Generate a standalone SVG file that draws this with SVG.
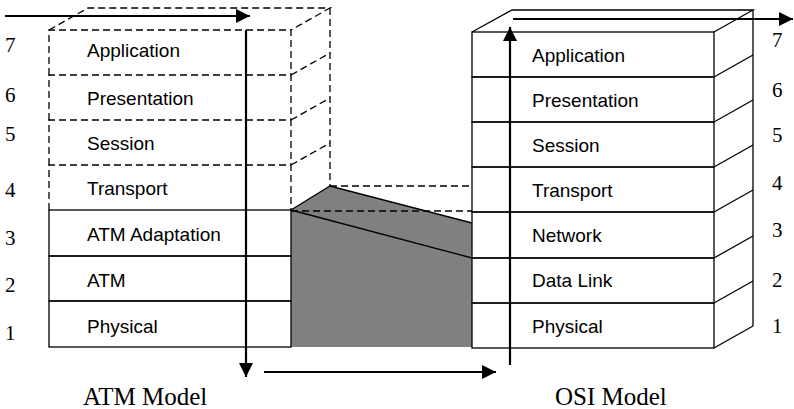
<svg xmlns="http://www.w3.org/2000/svg" width="794" height="409" viewBox="0 0 794 409">
<style>
.bg{fill:#ffffff}
.solid{fill:none;stroke:#000;stroke-width:1.3}
.dash{fill:none;stroke:#000;stroke-width:1.3;stroke-dasharray:7 4}
.lbl{font-family:"Liberation Sans",Arial,sans-serif;font-size:19px;fill:#000}
.num{font-family:"Liberation Serif","Times New Roman",serif;font-size:21px;fill:#000}
.title{font-family:"Liberation Serif","Times New Roman",serif;font-size:25px;fill:#000}
.arrow{fill:none;stroke:#000;stroke-width:2.2}
.gray{fill:#808080;stroke:none}
</style>
<defs>
<marker id="ah" viewBox="0 0 14 14" refX="14" refY="7" markerWidth="14" markerHeight="14" markerUnits="userSpaceOnUse" orient="auto">
<path d="M0,0 L14,7 L0,14 Z" fill="#000"/>
</marker>
</defs>
<rect class="bg" x="0" y="0" width="794" height="409"/>

<!-- bridge between models -->
<g id="bridge">
<path class="gray" d="M291,210 L330,186 L472,223 L472,347 L291,347 Z"/>
<path class="solid" d="M291,210 L330,186 L472,223"/>
<path class="solid" d="M291,210 L472,258"/>
<path class="dash" d="M330,186 H472"/>
<path class="dash" d="M291,211 H472"/>
</g>

<!-- ATM model 3D frame -->
<g id="atm-frame">
<path class="dash" d="M49,30 L88,8 H330 L291,30"/>
<path class="dash" d="M330,8 V186"/>
<path class="dash" d="M291,75 L330,53"/>
<path class="dash" d="M291,120 L330,98"/>
<path class="dash" d="M291,165 L330,143"/>
</g>

<g id="atm-7">
<path class="dash" d="M49,75 V30 H291 V75"/>
<text class="lbl" x="87" y="57">Application</text>
</g>
<g id="atm-6">
<path class="dash" d="M49,120 V75 H291 V120"/>
<text class="lbl" x="87" y="105">Presentation</text>
</g>
<g id="atm-5">
<path class="dash" d="M49,165 V120 H291 V165"/>
<text class="lbl" x="87" y="150">Session</text>
</g>
<g id="atm-4">
<path class="dash" d="M49,210 V165 H291 V210"/>
<text class="lbl" x="87" y="195">Transport</text>
</g>
<g id="atm-3">
<rect class="solid" x="49" y="210" width="242" height="46"/>
<text class="lbl" x="87" y="241">ATM Adaptation</text>
</g>
<g id="atm-2">
<rect class="solid" x="49" y="256" width="242" height="45"/>
<text class="lbl" x="87" y="287">ATM</text>
</g>
<g id="atm-1">
<rect class="solid" x="49" y="301" width="242" height="46"/>
<text class="lbl" x="87" y="333">Physical</text>
</g>

<!-- OSI model 3D frame -->
<g id="osi-frame">
<path class="solid" d="M472,32 L512,10 H753 L714,32"/>
<path class="solid" d="M753,10 V326"/>
<path class="solid" d="M714,77 L753,55 M714,122 L753,100 M714,167 L753,145 M714,212 L753,190 M714,258 L753,236 M714,303 L753,281 M714,348 L753,326"/>
</g>

<g id="osi-7">
<rect class="solid" x="472" y="32" width="242" height="45"/>
<text class="lbl" x="532" y="62">Application</text>
</g>
<g id="osi-6">
<rect class="solid" x="472" y="77" width="242" height="45"/>
<text class="lbl" x="532" y="107">Presentation</text>
</g>
<g id="osi-5">
<rect class="solid" x="472" y="122" width="242" height="45"/>
<text class="lbl" x="532" y="152">Session</text>
</g>
<g id="osi-4">
<rect class="solid" x="472" y="167" width="242" height="45"/>
<text class="lbl" x="532" y="197">Transport</text>
</g>
<g id="osi-3">
<rect class="solid" x="472" y="212" width="242" height="46"/>
<text class="lbl" x="532" y="242">Network</text>
</g>
<g id="osi-2">
<rect class="solid" x="472" y="258" width="242" height="45"/>
<text class="lbl" x="532" y="287">Data Link</text>
</g>
<g id="osi-1">
<rect class="solid" x="472" y="303" width="242" height="45"/>
<text class="lbl" x="532" y="333">Physical</text>
</g>

<!-- layer numbers -->
<g id="atm-numbers">
<text class="num" x="5" y="52">7</text>
<text class="num" x="5" y="102">6</text>
<text class="num" x="5" y="141">5</text>
<text class="num" x="5" y="197">4</text>
<text class="num" x="5" y="245">3</text>
<text class="num" x="5" y="292">2</text>
<text class="num" x="5" y="340">1</text>
</g>
<g id="osi-numbers">
<text class="num" x="772" y="47">7</text>
<text class="num" x="772" y="97">6</text>
<text class="num" x="772" y="142">5</text>
<text class="num" x="772" y="190">4</text>
<text class="num" x="772" y="237">3</text>
<text class="num" x="772" y="287">2</text>
<text class="num" x="772" y="333">1</text>
</g>

<g id="titles">
<text class="title" x="83" y="405">ATM Model</text>
<text class="title" x="555" y="405">OSI Model</text>
</g>

<!-- connectors -->
<g id="connectors">
<line class="arrow" x1="5" y1="16" x2="250" y2="16" marker-end="url(#ah)"/>
<line class="arrow" x1="246" y1="30" x2="246" y2="377" marker-end="url(#ah)"/>
<line class="arrow" x1="264" y1="372" x2="496" y2="372" marker-end="url(#ah)"/>
<line class="arrow" x1="510" y1="365" x2="510" y2="27" marker-end="url(#ah)"/>
<line class="arrow" x1="513" y1="19" x2="793" y2="19" marker-end="url(#ah)"/>
</g>
</svg>
